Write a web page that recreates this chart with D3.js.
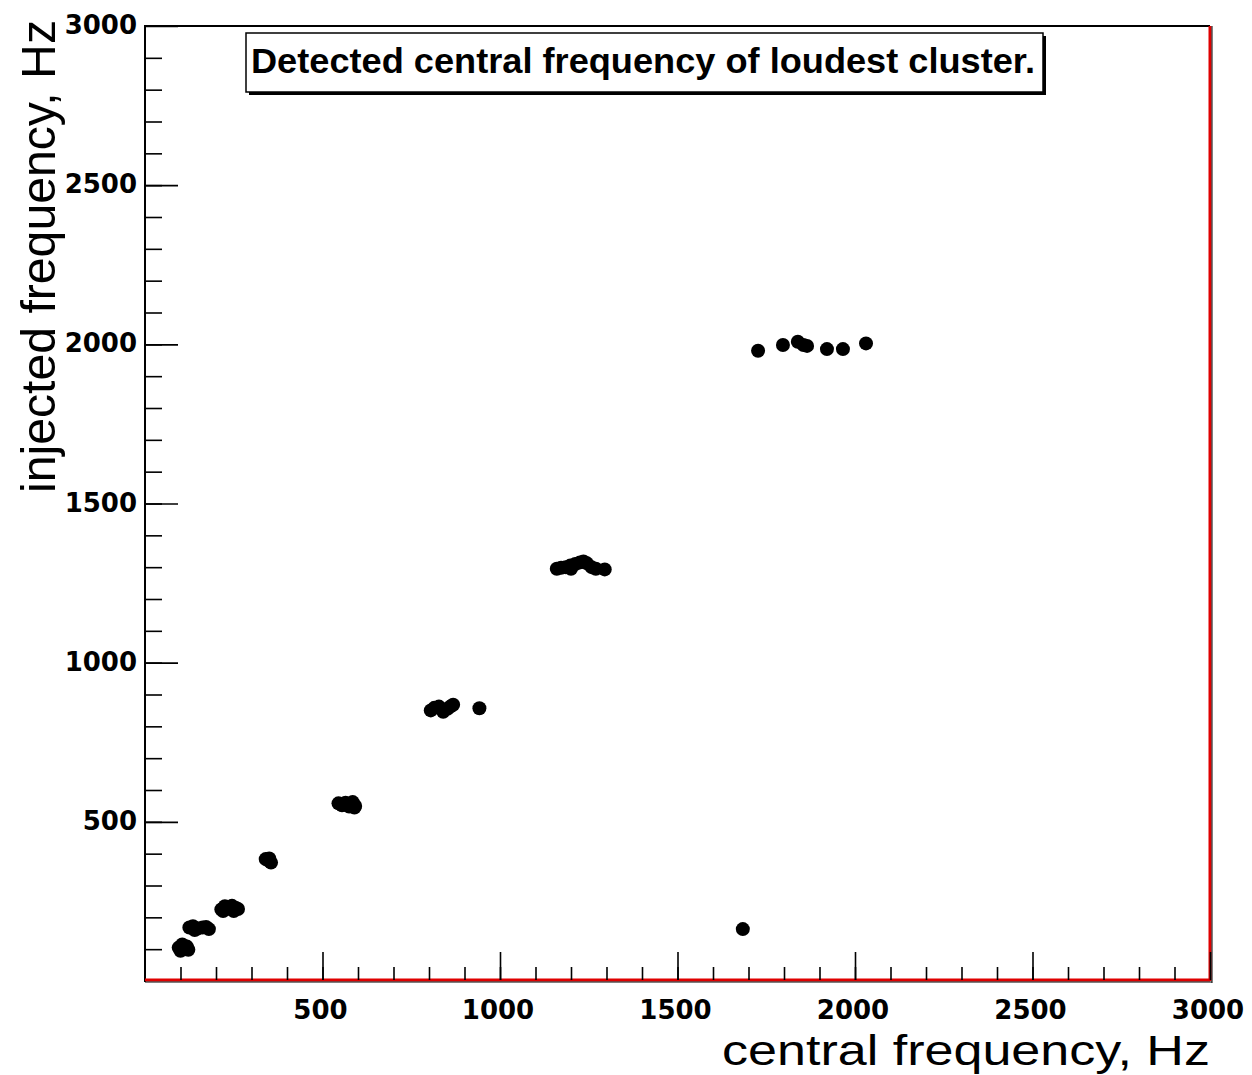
<!DOCTYPE html>
<html>
<head>
<meta charset="utf-8">
<script src="https://cdn.jsdelivr.net/npm/d3@7"></script>
<style>
  html, body { margin: 0; padding: 0; background: #fff; }
  svg { display: block; }
</style>
</head>
<body>
<script>
// ---- data ----
const centralFreq = [
  95, 100, 110, 118, 105, 122,
  125, 135, 148, 162, 172, 180, 140,
  215, 225, 235, 245, 255, 262, 220, 250,
  340, 348, 355, 350,
  545, 555, 565, 575, 585, 592, 590,
  805, 815, 828, 840, 852, 860, 868, 942,
  1160, 1172, 1185, 1198, 1212, 1225, 1235, 1245, 1258, 1270, 1295, 1200,
  1727, 1797, 1839, 1855, 1865, 1921, 1966, 2031,
  1684
];
const injectedFreq = [
  105, 95, 100, 108, 115, 98,
  168, 172, 165, 168, 170, 163, 160,
  225, 235, 228, 236, 230, 226, 220, 220,
  383, 378, 372, 385,
  558, 552, 560, 548, 562, 550, 545,
  850, 858, 862, 846, 855, 862, 868, 857,
  1295, 1298, 1300, 1305, 1310, 1315, 1318, 1312, 1300, 1295, 1293, 1295,
  1980, 1998, 2008, 1998, 1995, 1985, 1985, 2003,
  163
];
const xTickLabels = [500, 1000, 1500, 2000, 2500, 3000];
const yTickLabels = [500, 1000, 1500, 2000, 2500, 3000];
const titleText = "Detected central frequency of loudest cluster.";
const xTitle = "central frequency, Hz";
const yTitle = "injected frequency, Hz";

// ---- layout ----
const W = 1252, H = 1075;
const L = 145, R = 1210, T = 26, B = 981;

const svg = d3.select("body").append("svg").attr("width", W).attr("height", H);

const x = d3.scaleLinear().domain([0, 3000]).range([L, R]);
const y = d3.scaleLinear().domain([0, 3000]).range([B, T]);

const points = centralFreq.map((c, i) => ({ c, f: injectedFreq[i] }));

// points
svg.append("g").selectAll("circle").data(points).join("circle")
  .attr("cx", d => x(d.c)).attr("cy", d => y(d.f)).attr("r", 7)
  .attr("fill", "#000");

// frame
const frame = svg.append("g");
frame.append("line").attr("x1", L).attr("x2", R).attr("y1", T).attr("y2", T)
  .attr("stroke", "#000").attr("stroke-width", 2);
frame.append("line").attr("x1", L).attr("x2", L).attr("y1", T - 1).attr("y2", B + 1)
  .attr("stroke", "#000").attr("stroke-width", 2);
frame.append("line").attr("x1", R).attr("x2", R).attr("y1", T).attr("y2", B)
  .attr("stroke", "#e00000").attr("stroke-width", 3);
frame.append("line").attr("x1", R + 2).attr("x2", R + 2).attr("y1", T).attr("y2", B + 2)
  .attr("stroke", "#000").attr("stroke-width", 1);
frame.append("line").attr("x1", L).attr("x2", R).attr("y1", B - 1).attr("y2", B - 1)
  .attr("stroke", "#e00000").attr("stroke-width", 3);
frame.append("line").attr("x1", L).attr("x2", R + 2).attr("y1", B + 1).attr("y2", B + 1)
  .attr("stroke", "#000").attr("stroke-width", 1);

// x axis ticks
const xMinor = d3.range(100, 3000, 100);
const xAxisMinor = d3.axisTop(x).tickValues(xMinor).tickSize(13).tickFormat("");
const gxm = svg.append("g").attr("transform", `translate(0,${B - 1})`).call(xAxisMinor);
const xAxisMajor = d3.axisTop(x).tickValues(xTickLabels).tickSize(28).tickFormat("");
const gxM = svg.append("g").attr("transform", `translate(0,${B - 1})`).call(xAxisMajor);
[gxm, gxM].forEach(g => {
  g.select(".domain").remove();
  g.selectAll(".tick line").attr("stroke", "#000").attr("stroke-width", 1.6);
});
svg.append("g").selectAll("text").data(xTickLabels).join("text")
  .attr("x", d => x(d) - 2).attr("y", 1019)
  .attr("text-anchor", "middle")
  .attr("font-family", "DejaVu Sans, sans-serif").attr("font-weight", "bold")
  .attr("font-size", 26).attr("fill", "#000")
  .text(d => d);

// y axis ticks
const yMinor = d3.range(100, 3000, 100);
const yAxisMinor = d3.axisRight(y).tickValues(yMinor).tickSize(17).tickFormat("");
const gym = svg.append("g").attr("transform", `translate(${L},0)`).call(yAxisMinor);
const yAxisMajor = d3.axisRight(y).tickValues(yTickLabels).tickSize(33).tickFormat("");
const gyM = svg.append("g").attr("transform", `translate(${L},0)`).call(yAxisMajor);
[gym, gyM].forEach(g => {
  g.select(".domain").remove();
  g.selectAll(".tick line").attr("stroke", "#000").attr("stroke-width", 1.6);
});
svg.append("g").selectAll("text").data(yTickLabels).join("text")
  .attr("x", 137).attr("y", d => y(d) + 8)
  .attr("text-anchor", "end")
  .attr("font-family", "DejaVu Sans, sans-serif").attr("font-weight", "bold")
  .attr("font-size", 26).attr("fill", "#000")
  .text(d => d);

// axis titles
svg.append("text")
  .attr("x", 722).attr("y", 1065)
  .attr("font-family", "Liberation Sans, Arial, sans-serif")
  .attr("font-size", 42).attr("fill", "#000")
  .attr("textLength", 488).attr("lengthAdjust", "spacingAndGlyphs")
  .text(xTitle);
svg.append("text")
  .attr("transform", "translate(55,493) rotate(-90)")
  .attr("font-family", "Liberation Sans, Arial, sans-serif")
  .attr("font-size", 48).attr("fill", "#000")
  .attr("textLength", 473).attr("lengthAdjust", "spacingAndGlyphs")
  .text(yTitle);

// title box with shadow
const bx = 246, by = 33, bw = 797, bh = 59;
svg.append("rect").attr("x", bx + 3).attr("y", by + 3).attr("width", bw).attr("height", bh)
  .attr("fill", "#000");
svg.append("rect").attr("x", bx).attr("y", by).attr("width", bw).attr("height", bh)
  .attr("fill", "#fff").attr("stroke", "#000").attr("stroke-width", 1.5);
svg.append("text")
  .attr("x", 251).attr("y", 73)
  .attr("font-family", "Liberation Sans, Arial, sans-serif").attr("font-weight", "bold")
  .attr("font-size", 35).attr("fill", "#000")
  .attr("textLength", 784).attr("lengthAdjust", "spacingAndGlyphs")
  .text(titleText);
</script>
</body>
</html>
